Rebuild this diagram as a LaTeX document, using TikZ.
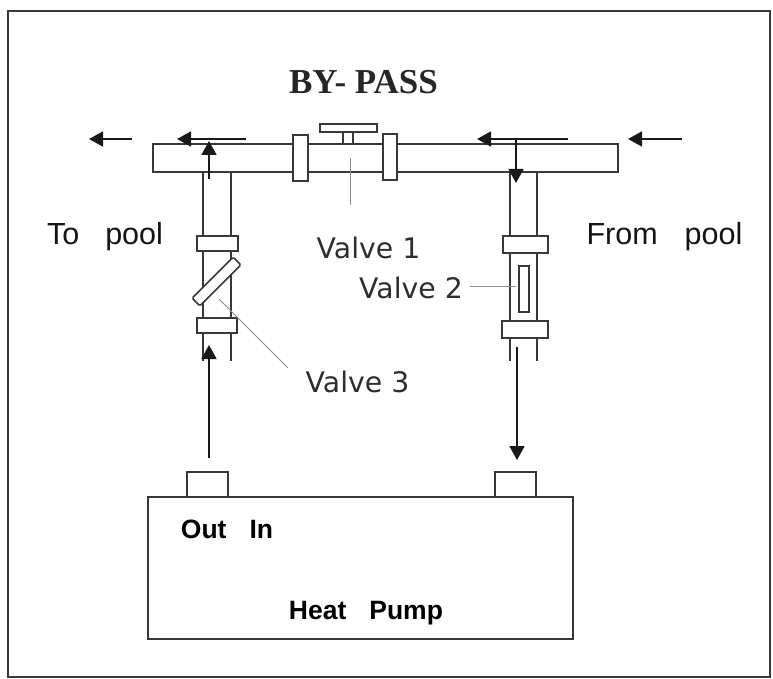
\documentclass[tikz,border=0pt]{standalone}
\usepackage{fontspec}
\setmainfont{Liberation Sans}
\newfontfamily\serifbold{Liberation Serif}[BoldFont={Liberation Serif Bold}]
\newfontfamily\valvefont{DejaVu Sans}
\usetikzlibrary{arrows.meta, positioning}
\tikzstyle{pipe} = [rectangle, draw=black!78, line width=1.6pt, fill=white, inner sep=0pt]
\tikzstyle{pipeline} = [draw=black!78, line width=1.6pt]
\tikzstyle{leader} = [draw=black!45, line width=1pt]
\tikzstyle{arrow} = [line width=1.7pt, black!90, -{Triangle[length=14pt, width=15pt]}]
\tikzstyle{wide} = [font=\fontsize{30.5}{34}\selectfont, inner sep=0pt, anchor=base, text=black!92]
\tikzstyle{valve} = [font=\valvefont\fontsize{28.3}{32}\selectfont, inner sep=0pt, anchor=base, text=black!82]
\tikzstyle{pump} = [font=\bfseries\fontsize{26.5}{30}\selectfont, inner sep=0pt, anchor=base]
\begin{document}
\begin{tikzpicture}[x=1pt, y=-1pt]
  \useasboundingbox (0,0) rectangle (773,679);
  \node (frame) at (389,344) [rectangle, draw=black!78, line width=2.2pt, minimum width=762.5pt, minimum height=666pt, inner sep=0pt] {};

  % heat pump
  \node (outlet) at (207.5,487) [pipe, minimum width=41pt, minimum height=30pt] {};
  \node (inlet) at (515.5,487) [pipe, minimum width=41pt, minimum height=30pt] {};
  \node (pumpbox) at (360.5,568) [pipe, minimum width=425pt, minimum height=142pt] {};
  \node (outtext) at (227,538) [pump] {Out\hspace{23pt}In};
  \node (pumptext) at (366,619) [pump] {Heat\hspace{23pt}Pump};

  % by-pass pipe
  \coordinate (lefttop) at (203,172);
  \coordinate (leftend) at (203,361);
  \coordinate (lefttop2) at (231,172);
  \coordinate (leftend2) at (231,361);
  \coordinate (righttop) at (510,172);
  \coordinate (rightend) at (510,361);
  \coordinate (righttop2) at (537,172);
  \coordinate (rightend2) at (537,361);
  \draw [pipeline] (lefttop) -- (leftend);
  \draw [pipeline] (lefttop2) -- (leftend2);
  \draw [pipeline] (righttop) -- (rightend);
  \draw [pipeline] (righttop2) -- (rightend2);
  \node (bypass) at (385.5,158) [pipe, minimum width=465pt, minimum height=28pt] {};
  \node (flangea) at (300.5,158) [pipe, minimum width=15pt, minimum height=46pt] {};
  \node (flangeb) at (390,157) [pipe, minimum width=14pt, minimum height=46pt] {};
  \node (stem) at (348,138) [pipe, minimum width=10pt, minimum height=12pt] {};
  \node (handle) at (348.5,128) [pipe, minimum width=57pt, minimum height=8pt] {};

  % left and right branches
  \node (flangec) at (217.5,243.5) [pipe, minimum width=41pt, minimum height=15pt] {};
  \node (flanged) at (217,325.5) [pipe, minimum width=40pt, minimum height=15pt] {};
  \node (valvethree) at (216.5,281.5) [pipe, rotate=45, rounded corners=1.5pt, minimum width=58pt, minimum height=11pt] {};
  \node (flangee) at (525.5,244.5) [pipe, minimum width=45pt, minimum height=17pt] {};
  \node (flangef) at (525,329.5) [pipe, minimum width=46pt, minimum height=17pt] {};
  \node (valvetwo) at (524,289) [pipe, minimum width=10pt, minimum height=46pt] {};

  % labels
  \node (title) at (363.5,94) [font=\serifbold\bfseries\fontsize{35}{38}\selectfont, inner sep=0pt, anchor=base, text=black!85] {BY- PASS};
  \node (topool) at (105,244) [wide] {To\hspace{26pt}pool};
  \node (frompool) at (664.5,244) [wide] {From\hspace{27pt}pool};
  \node (labela) at (368.5,258) [valve] {Valve 1};
  \node (labelb) at (411,298) [valve] {Valve 2};
  \node (labelc) at (357.5,392) [valve] {Valve 3};

  % leader lines
  \coordinate (leadera) at (350,158);
  \coordinate (leadera2) at (350,205);
  \coordinate (leaderb) at (470,286);
  \coordinate (leaderb2) at (516,286);
  \coordinate (leaderc) at (219,299);
  \coordinate (leaderc2) at (288,368);
  \draw [leader] (leadera) -- (leadera2);
  \draw [leader] (leaderb) -- (leaderb2);
  \draw [leader] (leaderc) -- (leaderc2);

  % flow arrows
  \coordinate (outa) at (132,139);
  \coordinate (outb) at (89,139);
  \coordinate (flowa) at (246,139);
  \coordinate (flowb) at (177,139);
  \coordinate (flowc) at (568,139);
  \coordinate (flowd) at (477,139);
  \coordinate (ina) at (682,139);
  \coordinate (inb) at (628,139);
  \coordinate (risea) at (209,179);
  \coordinate (riseb) at (209,141);
  \coordinate (dropa) at (516,139);
  \coordinate (dropb) at (516,183);
  \coordinate (upa) at (209,458);
  \coordinate (upb) at (209,345);
  \coordinate (downa) at (517,347);
  \coordinate (downb) at (517,460);
  \draw [arrow] (outa) -- (outb);
  \draw [arrow] (flowa) -- (flowb);
  \draw [arrow] (flowc) -- (flowd);
  \draw [arrow] (ina) -- (inb);
  \draw [arrow] (risea) -- (riseb);
  \draw [arrow] (dropa) -- (dropb);
  \draw [arrow] (upa) -- (upb);
  \draw [arrow] (downa) -- (downb);
\end{tikzpicture}
\end{document}
